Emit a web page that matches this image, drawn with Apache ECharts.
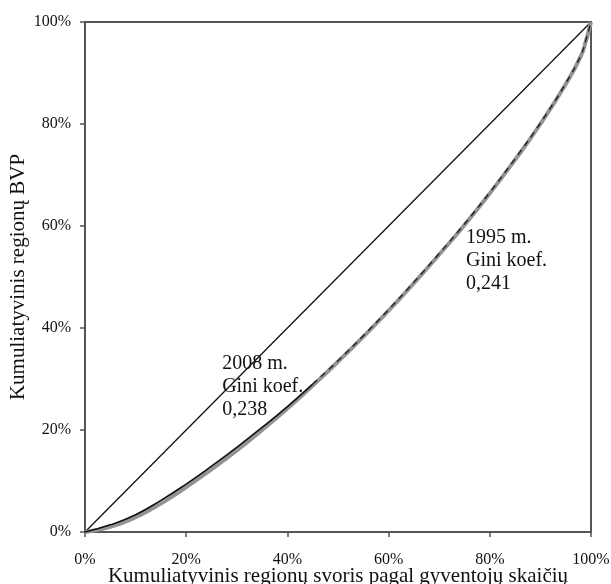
<!DOCTYPE html>
<html>
<head>
<meta charset="utf-8">
<style>
  html, body { margin: 0; padding: 0; background: #fff; }
  #chart { width: 611px; height: 584px; }
</style>
<script src="https://cdn.jsdelivr.net/npm/echarts@6/dist/echarts.min.js"></script>
</head>
<body>
<div id="chart"></div>
<script>
// cumulative population share (%) and cumulative GDP share (%)
var popShare = [0, 5, 10, 15, 20, 25, 30, 35, 40, 45, 50, 55, 60, 65, 70, 75, 80, 85, 90, 95, 98, 99, 100];
var gdp1995 = [0, 1.0, 2.9, 5.6, 8.8, 12.3, 16.0, 20.0, 24.2, 28.7, 33.4, 38.3, 43.4, 48.8, 54.4, 60.2, 66.4, 73.0, 80.0, 87.8, 93.3, 96.3, 100];
var gdp2008 = [0, 1.4, 3.4, 6.2, 9.4, 12.9, 16.6, 20.5, 24.6, 29.0, 33.6, 38.5, 43.6, 49.0, 54.6, 60.4, 66.6, 73.2, 80.2, 88.0, 93.5, 96.5, 100];
var equality = [[0, 0], [100, 100]];
var xTicks = [0, 20, 40, 60, 80, 100];
var yTicks = [0, 20, 40, 60, 80, 100];

var notes = [
  {x: 27.1, y: 35.3, text: '2008 m.\nGini koef.\n0,238'},
  {x: 75.3, y: 59.9, text: '1995 m.\nGini koef.\n0,241'}
];

var serif = '"Liberation Serif", "Times New Roman", serif';
var axisColor = '#555';
var textColor = '#111';

function pairs(xs, ys, from, to) {
  var out = [];
  for (var i = 0; i < xs.length; i++) {
    if (xs[i] >= from && xs[i] <= to) out.push([xs[i], ys[i]]);
  }
  return out;
}

var chart = echarts.init(document.getElementById('chart'));
chart.setOption({
  animation: false,
  grid: {
    left: 85, top: 22, right: 20, bottom: 52,
    containLabel: false, outerBoundsMode: 'none',
    show: true, borderColor: axisColor, borderWidth: 2, backgroundColor: '#fff'
  },
  xAxis: {
    type: 'value', min: xTicks[0], max: xTicks[xTicks.length - 1], interval: 20,
    name: 'Kumuliatyvinis regionų svoris pagal gyventojų skaičių',
    nameLocation: 'middle', nameGap: 34, nameMoveOverlap: false,
    nameTextStyle: {fontFamily: serif, fontSize: 21, color: textColor},
    axisLine: {show: true, lineStyle: {color: axisColor, width: 2}},
    axisTick: {show: true, length: 5, lineStyle: {color: axisColor, width: 1.5}},
    axisLabel: {formatter: '{value}%', fontFamily: serif, fontSize: 16, color: textColor, margin: 20},
    splitLine: {show: false}
  },
  yAxis: {
    type: 'value', min: yTicks[0], max: yTicks[yTicks.length - 1], interval: 20,
    name: 'Kumuliatyvinis regionų BVP',
    nameLocation: 'middle', nameGap: 56, nameMoveOverlap: false,
    nameTextStyle: {fontFamily: serif, fontSize: 21, color: textColor},
    axisLine: {show: true, lineStyle: {color: axisColor, width: 2}},
    axisTick: {show: true, length: 5, lineStyle: {color: axisColor, width: 1.5}},
    axisLabel: {formatter: '{value}%', fontFamily: serif, fontSize: 16, color: textColor, margin: 14},
    splitLine: {show: false}
  },
  series: [
    {
      type: 'line', data: equality, symbol: 'none', silent: true,
      lineStyle: {color: '#111', width: 1.3}
    },
    {
      type: 'line', data: pairs(popShare, gdp1995, 0, 100), symbol: 'none', smooth: true,
      lineStyle: {color: '#939393', width: 4}
    },
    {
      type: 'line', data: pairs(popShare, gdp2008, 0, 45), symbol: 'none', smooth: true,
      lineStyle: {color: '#111', width: 1.6}
    },
    {
      type: 'line', data: pairs(popShare, gdp2008, 45, 100), symbol: 'none', smooth: true,
      lineStyle: {color: '#222', width: 1.4, type: [6, 5]}
    },
    {
      type: 'scatter', symbolSize: 0, silent: true,
      data: notes.map(function(n) { return {value: [n.x, n.y], text: n.text}; }),
      itemStyle: {color: '#000', opacity: 1},
      label: {
        show: true, position: [0, 0], align: 'left', verticalAlign: 'top',
        fontFamily: serif, fontSize: 20, lineHeight: 23, color: textColor,
        opacity: 1, textBorderWidth: 0,
        formatter: function(p) { return p.data.text; }
      },
      z: 5
    }
  ]
});
</script>
</body>
</html>
